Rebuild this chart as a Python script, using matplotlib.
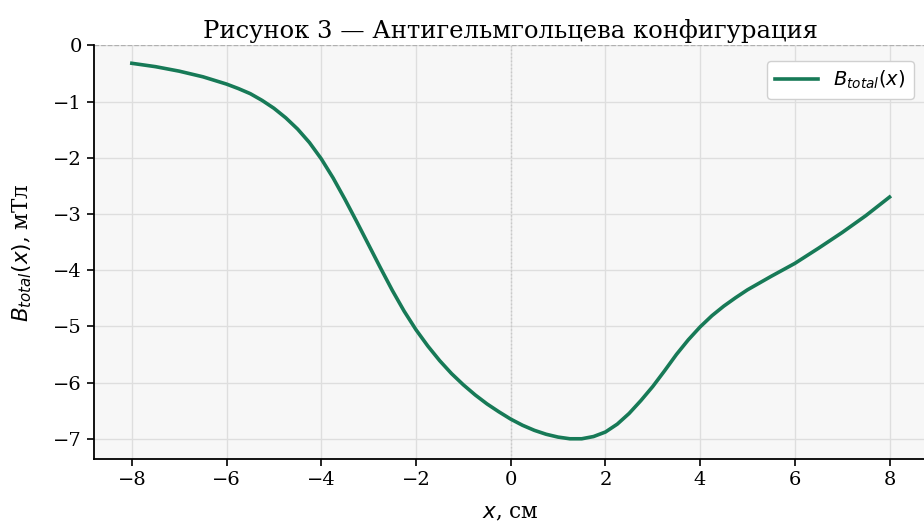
import matplotlib
matplotlib.use('Agg')
import matplotlib.pyplot as plt
import matplotlib as mpl

# значения
x_cm = [-8, -7.5, -7, -6.5, -6, -5.75, -5.5, -5.25, -5, -4.75, -4.5, -4.25, -4, -3.75,
        -3.5, -3.25, -3, -2.75, -2.5, -2.25, -2, -1.75, -1.5, -1.25, -1, -0.75, -0.5,
        -0.25, 0, 0.25, 0.5, 0.75, 1, 1.25, 1.5, 1.75, 2, 2.25, 2.5, 2.75, 3, 3.25, 3.5,
        3.75, 4, 4.25, 4.5, 4.75, 5, 5.5, 6, 6.5, 7, 7.5, 8]
b_total = [-0.32, -0.38, -0.46, -0.56, -0.69, -0.77, -0.86, -0.98, -1.12, -1.29, -1.49,
           -1.73, -2.02, -2.36, -2.74, -3.14, -3.55, -3.96, -4.36, -4.73, -5.06, -5.35,
           -5.61, -5.84, -6.04, -6.22, -6.38, -6.52, -6.65, -6.76, -6.85, -6.92, -6.97,
           -7.00, -7.00, -6.96, -6.88, -6.74, -6.55, -6.32, -6.07, -5.79, -5.50, -5.24,
           -5.01, -4.81, -4.64, -4.49, -4.35, -4.11, -3.88, -3.61, -3.33, -3.03, -2.70]

mpl.rcParams['font.family'] = ['DejaVu Serif']
mpl.rcParams['mathtext.fontset'] = 'dejavusans'


def main():
    fig = plt.figure(figsize=(9.24, 5.25), dpi=100)
    ax = fig.add_axes([0.1017, 0.1257, 0.902, 0.788])
    ax.set_facecolor('#f7f7f7')

    ax.grid(True, color='#dedede', linewidth=1.0)
    ax.set_axisbelow(True)
    ax.axhline(0, color='#b0b0b0', linestyle='--', linewidth=0.9)
    ax.axvline(0, color='#c8c8c8', linestyle=':', linewidth=1.0)

    ax.plot(x_cm, b_total, color='#177a57', linewidth=2.6, label=r'$B_{total}(x)$',
            solid_joinstyle='round')

    ax.set_xlim(-8.8, 8.8)
    ax.set_ylim(-7.36, 0.0)
    ax.set_xticks(range(-8, 9, 2))
    ax.set_yticks(range(-7, 1))

    ax.spines['top'].set_visible(False)
    ax.spines['right'].set_visible(False)
    ax.spines['left'].set_linewidth(1.3)
    ax.spines['bottom'].set_linewidth(1.3)
    ax.tick_params(labelsize=14, length=5, width=1.2)

    ax.set_title('Рисунок 3 — Антигельмгольцева конфигурация', fontsize=17.5, pad=5)
    ax.set_xlabel(r'$x$, см', fontsize=15.5, labelpad=9)
    ax.set_ylabel(r'$B_{total}(x)$, мТл', fontsize=15.5, labelpad=14)

    leg = ax.legend(loc='upper right', fontsize=14, bbox_to_anchor=(0.995, 0.985),
                    handlelength=2.2, framealpha=1.0)
    leg.get_frame().set_edgecolor('#d0d0d0')

    fig.savefig('out.png', dpi=100)


if __name__ == '__main__':
    main()
